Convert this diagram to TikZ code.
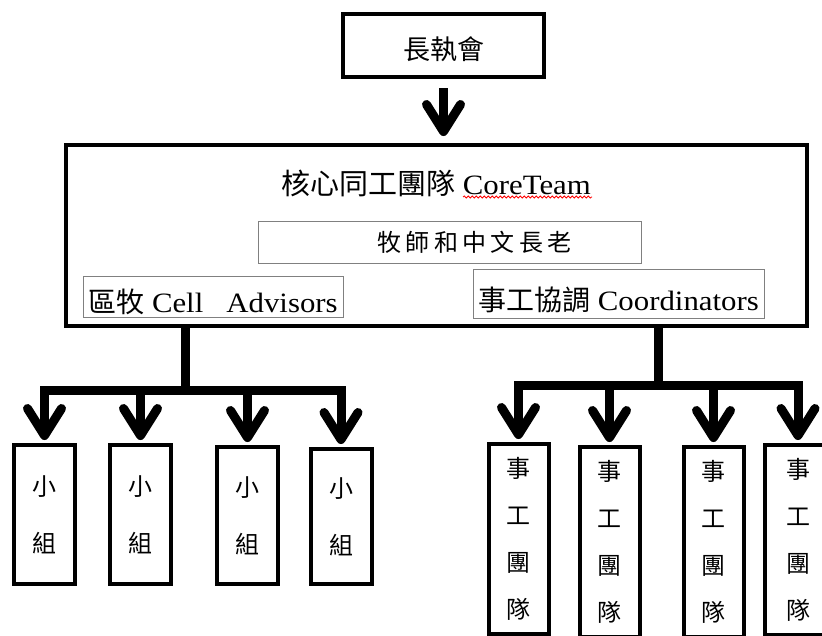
\documentclass[tikz,border=0pt]{standalone}
\usepackage{fontspec}
\setmainfont{Liberation Serif}[FakeStretch=1.1]
\newfontfamily\zh{Noto Sans CJK TC}
\newfontfamily\zhwide{Noto Sans CJK TC}[LetterSpace=18]
\usetikzlibrary{arrows.meta,decorations.pathmorphing}
\begin{document}
\begin{tikzpicture}[x=1pt,y=-1pt]
\tikzstyle{every node}=[inner sep=0pt, font=\fontsize{28}{32}\selectfont]
\tikzstyle{thick box}=[shape=rectangle, draw, line width=4pt, font=\zh\fontsize{27}{32}\selectfont]
\tikzstyle{thin box}=[shape=rectangle, draw=gray, line width=1pt]
\tikzstyle{group box}=[thick box, minimum width=61pt, align=center, font=\zh\fontsize{24}{57}\selectfont]
\tikzstyle{team box}=[thick box, minimum width=60pt, minimum height=190pt, align=center, font=\zh\fontsize{24}{47}\selectfont]
\tikzstyle{big arrow}=[line width=9pt, -{Straight Barb[length=27pt,width=34pt,round]}]
\tikzstyle{bar}=[line width=9pt, line cap=rect]
\useasboundingbox (0,0) rectangle (822,635);
\clip (0,0) rectangle (822,635);
\node [thick box, minimum width=201pt, minimum height=63pt] (EB) at (443.5,45.5) {\raisebox{-4pt}[\height][\depth]{長執會}};
\node [thick box, minimum width=741pt, minimum height=181pt] (CT) at (436.5,235.5) {};
\node (CTL) at (436,183) {{\zh\fontsize{29}{32}\selectfont 核心同工團隊} CoreTeam};
\node [thin box, minimum width=383pt, minimum height=42pt] (PE) at (449.5,242) {\hspace*{50pt}{\zhwide\fontsize{24}{28}\selectfont 牧師和中文長老}};
\node [thin box, minimum width=260pt, minimum height=41pt] (CA) at (213,296.5) {\raisebox{-5pt}[\height][\depth]{{\zh 區牧} Cell\ \ \ Advisors}};
\node [thin box, minimum width=291pt, minimum height=49pt] (CO) at (618.5,293.5) {\raisebox{-6pt}[\height][\depth]{{\zh 事工協調} Coordinators}};
\node [group box, minimum height=139pt] (G1) at (44.5,514.5) {小\\組};
\node [group box, minimum height=139pt] (G2) at (140.5,514.5) {小\\組};
\node [group box, minimum height=137pt] (G3) at (247.5,515.5) {小\\組};
\node [group box, minimum height=135pt] (G4) at (341,516.5) {小\\組};
\node [team box] (M1) at (518.5,539) {事\\工\\團\\隊};
\node [team box] (M2) at (609.5,542) {事\\工\\團\\隊};
\node [team box] (M3) at (713.5,542) {事\\工\\團\\隊};
\node [team box, minimum width=66pt] (M4) at (798,540) {事\\工\\團\\隊};
\coordinate (LJ) at (185,390);
\coordinate (RJ) at (658,385);
\draw [red, line width=0.8pt, decorate, decoration={snake, amplitude=1pt, segment length=4pt}] (463,197) -- (592,197);
\draw [big arrow, shorten <=9pt, shorten >=7pt] (EB.south) to (EB.south |- CT.north);
\draw [bar] (CT.south -| LJ) to (LJ);
\draw [bar] (LJ -| G1) to (LJ -| G4);
\draw [big arrow, shorten >=3pt] (LJ -| G1) to (G1.north);
\draw [big arrow, shorten >=3pt] (LJ -| G2) to (G2.north);
\draw [big arrow, shorten >=3pt] (LJ -| G3) to (G3.north);
\draw [big arrow, shorten >=3pt] (LJ -| G4) to (G4.north);
\draw [bar] (CT.south -| RJ) to (RJ);
\draw [bar] (RJ -| M1) to (RJ -| M4);
\draw [big arrow, shorten >=3pt] (RJ -| M1) to (M1.north);
\draw [big arrow, shorten >=3pt] (RJ -| M2) to (M2.north);
\draw [big arrow, shorten >=3pt] (RJ -| M3) to (M3.north);
\draw [big arrow, shorten >=3pt] (RJ -| M4) to (M4.north);
\end{tikzpicture}
\end{document}
